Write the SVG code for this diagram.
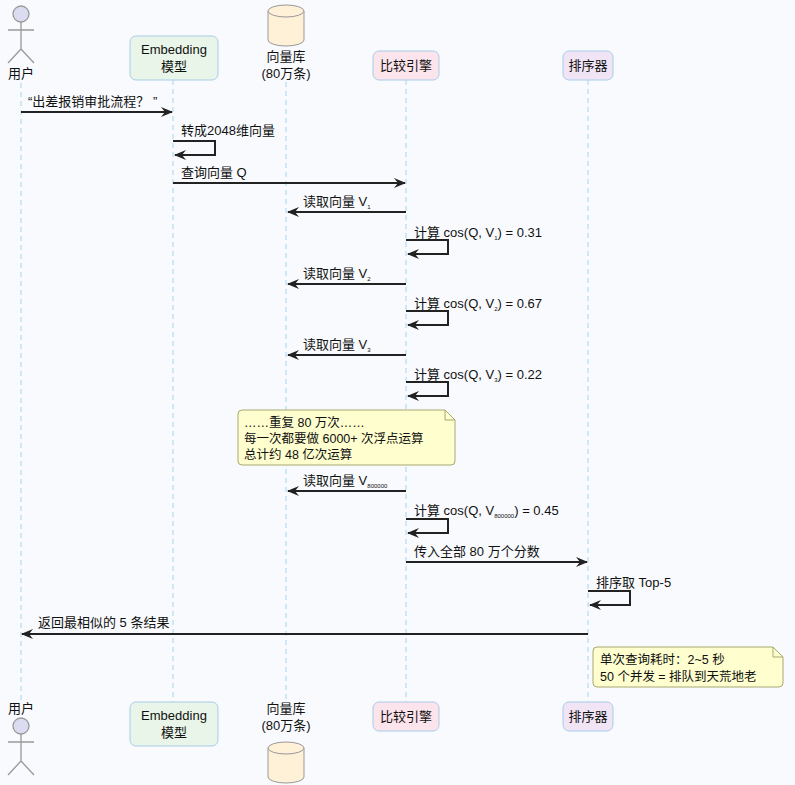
<svg xmlns="http://www.w3.org/2000/svg" width="795" height="785" viewBox="0 0 795 785">
<style>
text{font-family:"Liberation Sans","Noto Sans CJK SC",sans-serif;font-size:13px;fill:#111}
.c{text-anchor:middle}
.life{stroke:#a8d4f0;stroke-width:1;stroke-dasharray:5,4}
.msg{stroke:#222;stroke-width:2;fill:none}
.note{fill:#fefece;stroke:#a8a870;stroke-width:1}
.sub{font-size:6px;fill:#111}
.nt{font-size:12.5px}
.act{fill:none;stroke:#999;stroke-width:1.3}
</style>
<defs>
<marker id="ah" markerWidth="12" markerHeight="10" refX="11" refY="5" orient="auto" markerUnits="userSpaceOnUse">
<path d="M0,0 L12,5 L0,10 L4,5 Z" fill="#222"/>
</marker>
</defs>
<rect width="795" height="785" fill="#f8fafd"/>
<g id="lifelines">
<line class="life" x1="21" y1="83" x2="21" y2="700"/>
<line class="life" x1="173" y1="80" x2="173" y2="702"/>
<line class="life" x1="286" y1="82" x2="286" y2="700"/>
<line class="life" x1="406" y1="80" x2="406" y2="702"/>
<line class="life" x1="588" y1="80" x2="588" y2="702"/>
</g>
<g id="user">
<circle cx="21" cy="14" r="8" fill="#dcdcf0" stroke="#999" stroke-width="1.3"/>
<path class="act" d="M21,22 V49 M8,30 H34 M21,49 L8,63 M21,49 L34,63"/>
<text class="c" x="21" y="78">用户</text>
<text class="c" x="21" y="713">用户</text>
<circle cx="21" cy="726" r="8" fill="#dcdcf0" stroke="#999" stroke-width="1.3"/>
<path class="act" d="M21,734 V761 M8,742 H34 M21,761 L8,775 M21,761 L34,775"/>
</g>
<g id="embedding">
<rect x="130" y="36" width="88" height="44" rx="6" fill="#e8f5e8" stroke="#a8cce8"/>
<text class="c" x="174" y="54">Embedding</text>
<text class="c" x="174" y="71">模型</text>
<rect x="130" y="702" width="88" height="44" rx="6" fill="#e8f5e8" stroke="#a8cce8"/>
<text class="c" x="174" y="720">Embedding</text>
<text class="c" x="174" y="737">模型</text>
</g>
<g id="vectordb">
<path d="M268,11 V40 A18,6 0 0 0 304,40 V11" fill="#fff0d8" stroke="#999"/>
<ellipse cx="286" cy="11" rx="18" ry="6" fill="#fff0d8" stroke="#999"/>
<text class="c" x="286" y="61">向量库</text>
<text class="c" x="286" y="78">(80万条)</text>
<text class="c" x="286" y="713">向量库</text>
<text class="c" x="286" y="730">(80万条)</text>
<path d="M268,748 V777 A18,6 0 0 0 304,777 V748" fill="#fff0d8" stroke="#999"/>
<ellipse cx="286" cy="748" rx="18" ry="6" fill="#fff0d8" stroke="#999"/>
</g>
<g id="compare">
<rect x="373" y="51" width="66" height="29" rx="6" fill="#fce4ec" stroke="#a8cce8"/>
<text class="c" x="406" y="70">比较引擎</text>
<rect x="373" y="702" width="66" height="29" rx="6" fill="#fce4ec" stroke="#a8cce8"/>
<text class="c" x="406" y="721">比较引擎</text>
</g>
<g id="sorter">
<rect x="563" y="51" width="50" height="29" rx="6" fill="#f0e4f5" stroke="#a8cce8"/>
<text class="c" x="588" y="70">排序器</text>
<rect x="563" y="702" width="50" height="29" rx="6" fill="#f0e4f5" stroke="#a8cce8"/>
<text class="c" x="588" y="721">排序器</text>
</g>
<g id="connectors">
<line class="msg" x1="21" y1="112" x2="172" y2="112" marker-end="url(#ah)"/>
<text x="28" y="106">“出差报销审批流程？ ”</text>
<path class="msg" d="M173,141 H215 V155 H175" marker-end="url(#ah)"/>
<text x="181" y="135">转成2048维向量</text>
<line class="msg" x1="173" y1="183" x2="405" y2="183" marker-end="url(#ah)"/>
<text x="181" y="177">查询向量 Q</text>

<line class="msg" x1="406" y1="212" x2="288" y2="212" marker-end="url(#ah)"/>
<text x="303" y="206">读取向量 V<tspan class="sub" dy="3">1</tspan></text>
<path class="msg" d="M406,240 H448 V254 H408" marker-end="url(#ah)"/>
<text x="414" y="237">计算 cos(Q, V<tspan class="sub" dy="3">1</tspan><tspan dy="-3">) = 0.31</tspan></text>

<line class="msg" x1="406" y1="284" x2="288" y2="284" marker-end="url(#ah)"/>
<text x="303" y="278">读取向量 V<tspan class="sub" dy="3">2</tspan></text>
<path class="msg" d="M406,311 H448 V325 H408" marker-end="url(#ah)"/>
<text x="414" y="308">计算 cos(Q, V<tspan class="sub" dy="3">2</tspan><tspan dy="-3">) = 0.67</tspan></text>

<line class="msg" x1="406" y1="355" x2="288" y2="355" marker-end="url(#ah)"/>
<text x="303" y="349">读取向量 V<tspan class="sub" dy="3">3</tspan></text>
<path class="msg" d="M406,382 H448 V396 H408" marker-end="url(#ah)"/>
<text x="414" y="379">计算 cos(Q, V<tspan class="sub" dy="3">3</tspan><tspan dy="-3">) = 0.22</tspan></text>

<line class="msg" x1="406" y1="491" x2="288" y2="491" marker-end="url(#ah)"/>
<text x="303" y="485">读取向量 V<tspan class="sub" dy="3">800000</tspan></text>
<path class="msg" d="M406,519 H448 V533 H408" marker-end="url(#ah)"/>
<text x="414" y="515">计算 cos(Q, V<tspan class="sub" dy="3">800000</tspan><tspan dy="-3">) = 0.45</tspan></text>

<line class="msg" x1="406" y1="562" x2="587" y2="562" marker-end="url(#ah)"/>
<text x="414" y="556">传入全部 80 万个分数</text>
<path class="msg" d="M588,591 H630 V605 H590" marker-end="url(#ah)"/>
<text x="596" y="587">排序取 Top-5</text>
<line class="msg" x1="588" y1="634" x2="22" y2="634" marker-end="url(#ah)"/>
<text x="38" y="627">返回最相似的 5 条结果</text>
</g>
<g id="note1">
<path class="note" d="M242,410 H445 L455,420 V461 Q455,465 451,465 H242 Q238,465 238,461 V414 Q238,410 242,410 Z"/>
<path d="M445,410 V420 H455" fill="none" stroke="#a8a870"/>
<text class="nt" x="244" y="427">……重复 80 万次……</text>
<text class="nt" x="244" y="443">每一次都要做 6000+ 次浮点运算</text>
<text class="nt" x="244" y="459">总计约 48 亿次运算</text>
</g>
<g id="note2">
<path class="note" d="M597,647 H773 L783,657 V683 Q783,687 779,687 H597 Q593,687 593,683 V651 Q593,647 597,647 Z"/>
<path d="M773,647 V657 H783" fill="none" stroke="#a8a870"/>
<text class="nt" x="600" y="664">单次查询耗时：2~5 秒</text>
<text class="nt" x="600" y="681">50 个并发 = 排队到天荒地老</text>
</g>
</svg>
